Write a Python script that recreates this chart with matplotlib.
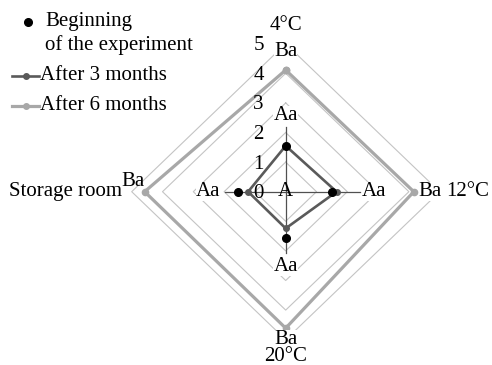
import numpy as np
import matplotlib
matplotlib.use("Agg")
import matplotlib.pyplot as plt
from matplotlib.lines import Line2D

plt.rcParams['font.family'] = ['Liberation Serif', 'DejaVu Serif']

W, H = 492, 365
categories = ["4°C", "12°C", "20°C", "Storage room"]
ring_ticks = [0, 1, 2, 3, 4, 5]
beginning = [1.55, 1.5, 1.55, 1.55]
after_3 = [1.55, 1.65, 1.24, 1.22]
after_6 = [4.11, 4.16, 4.61, 4.58]
inner_letters = ["Aa", "Aa", "Aa", "Aa"]
outer_letters = ["Ba", "Ba", "Ba", "Ba"]
center_letter = "A"
legend_labels = ["Beginning\nof the experiment", "After 3 months", "After 6 months"]

C_GRID = "#c4c4c4"
C_3 = "#5a5a5a"
C_6 = "#a8a8a8"
FS = 15

fig = plt.figure(figsize=(W / 100, H / 100), dpi=100)

# polar axes box (pixel geometry from reference)
cx, cy = 285.7, 191.7
rx, ry = 154.0, 148.0
ax = fig.add_axes([(cx - rx) / W, (H - cy - ry) / H, 2 * rx / W, 2 * ry / H],
                  projection='polar')
ax.set_aspect('auto')
ax.set_theta_zero_location('N')
ax.set_theta_direction(-1)
ax.set_ylim(0, 5)
ax.grid(False)
ax.set_xticks([])
ax.set_yticks([])
ax.spines['polar'].set_visible(False)
ax.patch.set_visible(False)

theta = np.deg2rad([0, 90, 180, 270])
theta_c = np.append(theta, theta[0])

# polygonal rings
for r in ring_ticks[1:]:
    ax.plot(theta_c, [r] * 5, color=C_GRID, lw=0.8, zorder=1, clip_on=False)

# short axis lines through the centre
axis_len = [2.2, 2.42, 2.08, 1.98]
for t, L in zip(theta, axis_len):
    ax.plot([t, t], [0, L], color="#505050", lw=0.9, zorder=2, clip_on=False)

# series
ax.plot(theta_c, after_6 + after_6[:1], color=C_6, lw=2.3, marker='o', ms=4.5,
        zorder=3, clip_on=False)
ax.plot(theta_c, after_3 + after_3[:1], color=C_3, lw=1.9, marker='o', ms=4,
        zorder=4, clip_on=False)
ax.plot(theta, beginning, linestyle='none', color='black', marker='o', ms=5.5,
        zorder=5, clip_on=False)

# ring labels
for r in ring_ticks:
    ax.annotate(str(r), xy=(0, r), xytext=(-19.5, -1.5), textcoords='offset points',
                ha='center', va='center', fontsize=FS, zorder=6, annotation_clip=False)

bb = dict(boxstyle='square,pad=0.0', fc='white', ec='none')
# inner letters
inner_r = [2.59, 2.87, 2.54, 2.53]
for t, r, s in zip(theta, inner_r, inner_letters):
    ax.text(t, r, s, ha='center', va='center', fontsize=FS, bbox=bb, zorder=7)
# outer letters
outer_pos = [(0, 4.73), (90, 4.7), (180, 4.98), (273.9, 4.98)]
for (td, r), s in zip(outer_pos, outer_letters):
    ax.text(np.deg2rad(td), r, s, ha='center', va='center', fontsize=FS,
            bbox=bb if td != 273.9 else None, zorder=7, clip_on=False)
ax.text(0, 0, center_letter, ha='center', va='center', fontsize=FS, zorder=7)

# category labels
ax.text(theta[0], 5.63, categories[0], ha='center', va='center', fontsize=FS,
        clip_on=False, zorder=9)
ax.text(theta[1], 5.2, categories[1], ha='left', va='center', fontsize=FS,
        clip_on=False, zorder=9)
ax.text(theta[2], 5.58, categories[2], ha='center', va='center', fontsize=FS,
        clip_on=False, zorder=9)
ax.text(theta[3], 5.3, categories[3], ha='right', va='center', fontsize=FS,
        clip_on=False, zorder=9)

# manual legend
def fx(x):
    return x / W

def fy(y):
    return 1 - y / H

fig.add_artist(Line2D([fx(28)], [fy(21.7)], marker='o', color='black', ms=5.5,
                      linestyle='none', transform=fig.transFigure))
l1, l2 = legend_labels[0].split("\n")
fig.text(fx(45), fy(21.7), l1, ha='left', va='center', fontsize=FS)
fig.text(fx(45), fy(45.5), l2, ha='left', va='center', fontsize=FS)
for y, c, lw, lab in [(75.7, C_3, 1.9, legend_labels[1]), (106, C_6, 2.3, legend_labels[2])]:
    fig.add_artist(Line2D([fx(11.7), fx(39.3)], [fy(y), fy(y)], color=c, lw=lw,
                          transform=fig.transFigure))
    fig.add_artist(Line2D([fx(26)], [fy(y)], color=c, marker='o', ms=4,
                          linestyle='none', transform=fig.transFigure))
    fig.text(fx(40), fy(y), lab, ha='left', va='center', fontsize=FS)

fig.savefig("out.png", dpi=100)
